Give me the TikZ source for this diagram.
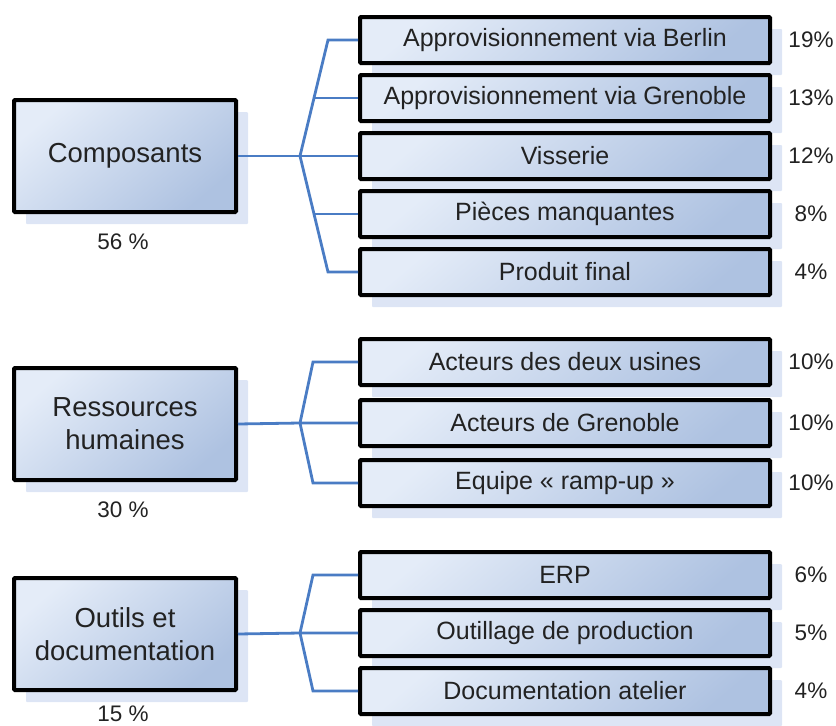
\documentclass[tikz,border=0pt]{standalone}
\usepackage{fontspec}
\setmainfont{Liberation Sans}
\usetikzlibrary{shapes,shadows}
\definecolor{claro}{HTML}{E4ECF8}
\definecolor{oscuro}{HTML}{AEC2E1}
\definecolor{sombra}{HTML}{DDE5F5}
\definecolor{enlace}{HTML}{4A7CC4}
\definecolor{texto}{HTML}{222222}
\tikzstyle{base}=[rectangle,draw=black,line width=4pt,rounded corners=1pt,text=texto,
  top color=claro,bottom color=oscuro,shading angle=40,
  drop shadow={fill=sombra,opacity=1,shadow xshift=12pt,shadow yshift=-12pt}]
\tikzstyle{grupo}=[base,minimum width=222pt,minimum height=112pt,align=center,
  font=\fontsize{27.5}{33}\selectfont]
\tikzstyle{caja}=[base,minimum width=410pt,minimum height=46pt,
  font=\fontsize{25}{30}\selectfont]
\tikzstyle{pct}=[text=texto,font=\fontsize{22.5}{27}\selectfont]
\tikzstyle{enl}=[draw=enlace,line width=2.8pt]

\begin{document}
\begin{tikzpicture}[x=1pt,y=-1pt]
\useasboundingbox (0,0) rectangle (836,726);
% composants
\node[grupo] (comp) at (125,156) {Composants};
\node[pct] at (123,242) {56 \%};
\node[caja] (b1) at (565,40)  {Approvisionnement via Berlin};
\node[caja] (b2) at (565,98)  {Approvisionnement via Grenoble};
\node[caja] (b3) at (565,156) {Visserie};
\node[caja] (b4) at (565,214) {Pièces manquantes};
\node[caja] (b5) at (565,272) {Produit final};
\node[pct] at (811,40)  {19\%};
\node[pct] at (811,98)  {13\%};
\node[pct] at (811,156) {12\%};
\node[pct] at (811,214) {8\%};
\node[pct] at (811,272) {4\%};
\coordinate (j1) at (300,156);
\draw[enl] (comp.east) -- (j1) -- (b3.west);
\draw[enl] (b1.west) -- ++(-30,0) -- (j1) -- ([xshift=-30pt]b5.west) -- (b5.west);
\draw[enl] (b2.west) -- ++(-45,0);
\draw[enl] (b4.west) -- ++(-45,0);
% ressources humaines
\node[grupo] (rh) at (125,424) {Ressources\\humaines};
\node[pct] at (123,510) {30 \%};
\node[caja] (r1) at (565,362) {Acteurs des deux usines};
\node[caja] (r2) at (565,423) {Acteurs de Grenoble};
\node[caja] (r3) at (565,483) {Equipe « ramp-up »};
\node[pct] at (811,362) {10\%};
\node[pct] at (811,423) {10\%};
\node[pct] at (811,483) {10\%};
\coordinate (j2) at (300,423);
\draw[enl] (rh.east) -- (j2) -- (r2.west);
\draw[enl] (r1.west) -- ++(-45,0) -- (j2) -- ([xshift=-45pt]r3.west) -- (r3.west);
% outils et documentation
\node[grupo] (od) at (125,634) {Outils et\\documentation};
\node[pct] at (123,714) {15 \%};
\node[caja] (o1) at (565,575) {ERP};
\node[caja] (o2) at (565,633) {Outillage de production};
\node[caja] (o3) at (565,691) {Documentation atelier};
\node[pct] at (811,575) {6\%};
\node[pct] at (811,633) {5\%};
\node[pct] at (811,691) {4\%};
\coordinate (j3) at (300,633);
\draw[enl] (od.east) -- (j3) -- (o2.west);
\draw[enl] (o1.west) -- ++(-45,0) -- (j3) -- ([xshift=-45pt]o3.west) -- (o3.west);
\end{tikzpicture}
\end{document}
